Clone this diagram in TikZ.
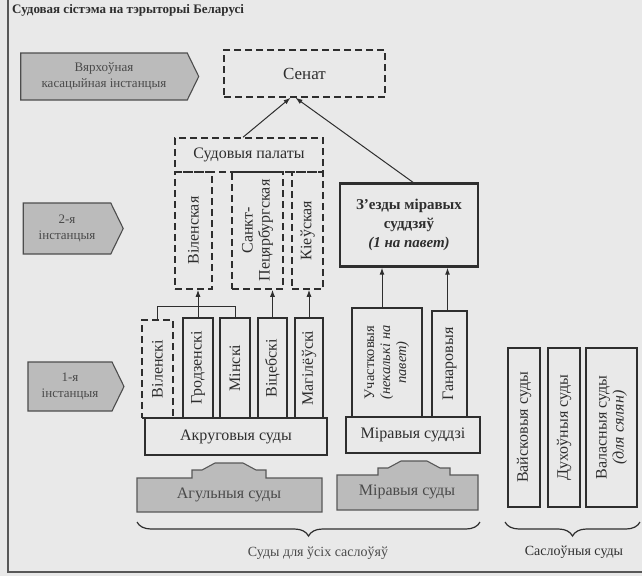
\documentclass[tikz,border=0pt]{standalone}
\usepackage{fontspec}
\setmainfont{Liberation Serif}
\usetikzlibrary{arrows.meta,shapes.symbols,decorations.pathreplacing,calc}
\definecolor{bg}{HTML}{E9E9E9}
\definecolor{ink}{HTML}{2E2E2E}
\definecolor{lab}{HTML}{BBBBBB}
\definecolor{labink}{HTML}{4A4A4A}
\begin{document}
\begin{tikzpicture}[x=1pt,y=-1pt,
  box/.style={draw=ink, line width=1.6pt, inner sep=0pt},
  dbox/.style={draw=ink, line width=1.5pt, dash pattern=on 7pt off 4pt, inner sep=0pt},
  txt/.style={text=ink, align=center, inner sep=0pt, font=\fontsize{16}{17}\selectfont},
  rot/.style={txt, rotate=90},
  lvl/.style={signal, signal to=east, signal pointer angle=128, draw=ink!85, line width=1.1pt,
    fill=lab, text=labink, align=center, inner sep=0pt, font=\fontsize{13}{16}\selectfont},
  grayshape/.style={draw=ink!80, line width=1.1pt, fill=lab},
  arr/.style={draw=ink, line width=1pt, -{Latex[length=7pt,width=5pt]}},
  ln/.style={draw=ink, line width=1pt},
  brc/.style={draw=ink, line width=1.2pt, decorate, decoration={brace, amplitude=14pt, mirror}}
]
\useasboundingbox (0,0) rectangle (642,576);
\fill[bg] (0,0) rectangle (642,576);
% frame lines
\draw[ink!80, line width=1.3pt] (8,-2) -- (8,572) -- (644,572);
% title
\node[anchor=base west, text=ink, inner sep=0pt, font=\bfseries\fontsize{13}{14}\selectfont] (title) at (12,13) {Судовая сістэма на тэрыторыі Беларусі};

% level labels
\node[lvl, minimum width=178pt, minimum height=47pt] (L1) at (104,76.5) {Вярхоўная\\касацыйная інстанцыя};
\node[lvl, minimum width=100pt, minimum height=51pt] (L2) at (67,228.5) {2-я\\інстанцыя};
\node[lvl, minimum width=96pt, minimum height=49pt] (L3) at (70,386.5) {1-я\\інстанцыя};

% Senate
\node[dbox, minimum width=161pt, minimum height=47pt] (senat) at (304.5,73.5) {};
\node[txt, font=\fontsize{17}{18}\selectfont] at (senat) {Сенат};

% Judicial chambers
\node[dbox, minimum width=148pt, minimum height=34pt] (palh) at (249,155) {};
\node[txt] at (palh) {Судовыя палаты};
\node[dbox, minimum width=37pt, minimum height=117pt] (vilp) at (193.5,230.5) {};
\node[rot] at (vilp) {Віленская};
\node[dbox, minimum width=51pt, minimum height=117pt] (spb) at (257.5,230.5) {};
\node[rot] at (spb) {Санкт-\\Пецярбургская};
\node[dbox, minimum width=31pt, minimum height=117pt] (kiev) at (307.5,230.5) {};
\node[rot] at (kiev) {Кіеўская};

% Congress of justices of the peace
\node[box, line width=2.4pt, minimum width=138pt, minimum height=83pt] (zezdy) at (409,225) {};
\node[txt, font=\bfseries\fontsize{15}{19}\selectfont] at (zezdy) {З’езды міравых\\суддзяў\\\textit{(1 на павет)}};

% district courts (1st instance)
\node[dbox, minimum width=31pt, minimum height=98pt] (vil1) at (157.5,369) {};
\node[rot] at (vil1) {Віленскі};
\node[box, minimum width=30pt, minimum height=100pt] (grod) at (198,368) {};
\node[rot] at (grod) {Гродзенскі};
\node[box, minimum width=30pt, minimum height=100pt] (minsk) at (235,368) {};
\node[rot] at (minsk) {Мінскі};
\node[box, minimum width=29pt, minimum height=100pt] (vit) at (272.5,368) {};
\node[rot] at (vit) {Віцебскі};
\node[box, minimum width=28pt, minimum height=100pt] (mag) at (309,368) {};
\node[rot] at (mag) {Магілёўскі};
\node[box, minimum width=182pt, minimum height=37pt] (akr) at (236,436.5) {};
\node[txt] at (akr) {Акруговыя суды};

% justices of the peace
\node[box, minimum width=70pt, minimum height=109pt] (uch) at (387,362.5) {};
\node[rot, font=\fontsize{14.5}{16}\selectfont] at (uch) {Участковыя\\\textit{(некалькі на}\\\textit{павет)}};
\node[box, minimum width=35pt, minimum height=106pt] (han) at (449.5,364) {};
\node[rot] at (han) {Ганаровыя};
\node[box, minimum width=134pt, minimum height=36pt] (mirs) at (413,435) {};
\node[txt] at (mirs) {Міравыя суддзі};

% estate courts
\node[box, minimum width=32pt, minimum height=159pt] (vaisk) at (524,427.5) {};
\node[rot] at (vaisk) {Вайсковыя суды};
\node[box, minimum width=32pt, minimum height=159pt] (duch) at (564,427.5) {};
\node[rot] at (duch) {Духоўныя суды};
\node[box, minimum width=51pt, minimum height=159pt] (val) at (611.5,427.5) {};
\node[rot] at (val) {Валасныя суды\\\textit{(для сялян)}};

% gray up-arrow blocks
\draw[grayshape] (137,512) -- (137,478) -- (192,478) -- (192,470) -- (202,470) -- (215,463)
  -- (243,463) -- (256,470) -- (266,470) -- (266,478) -- (322,478) -- (322,512) -- cycle;
\node[txt, text=labink] (agul) at (229,495) {Агульныя суды};
\draw[grayshape] (337,510) -- (337,475) -- (378,475) -- (378,468) -- (388,468) -- (401,461)
  -- (427,461) -- (440,468) -- (450,468) -- (450,475) -- (478,475) -- (478,510) -- cycle;
\node[txt, text=labink] (mirsud) at (407,492) {Міравыя суды};

% connectors
\draw[arr] ([xshift=-6pt]palh.north) -- ([xshift=-14pt]senat.south);
\draw[arr] ([xshift=4pt]zezdy.north) -- ([xshift=-9pt]senat.south);
\draw[ln] (vil1.north) -- ++(0,-13) -| (minsk.north);
\draw[arr] (grod.north) -- (grod.north |- vilp.south);
\draw[arr] (vit.north) -- (vit.north |- spb.south);
\draw[arr] (mag.north) -- (mag.north |- kiev.south);
\draw[arr] ([xshift=-5pt]uch.north) -- ([xshift=-5pt]uch.north |- zezdy.south);
\draw[arr] ([xshift=-2pt]han.north) -- ([xshift=-2pt]han.north |- zezdy.south);

% braces
\coordinate (b1a) at (137,522);
\coordinate (b1b) at (480,522);
\coordinate (b2a) at (505,522);
\coordinate (b2b) at (640,522);
\draw[brc] (b1a) -- (b1b);
\draw[brc] (b2a) -- (b2b);
\node[txt, text=labink, font=\fontsize{14}{16}\selectfont] (lab1) at (318,553) {Суды для ўсіх саслоўяў};
\node[txt, font=\fontsize{14}{16}\selectfont] (lab2) at (574,552) {Саслоўныя суды};
\end{tikzpicture}
\end{document}
